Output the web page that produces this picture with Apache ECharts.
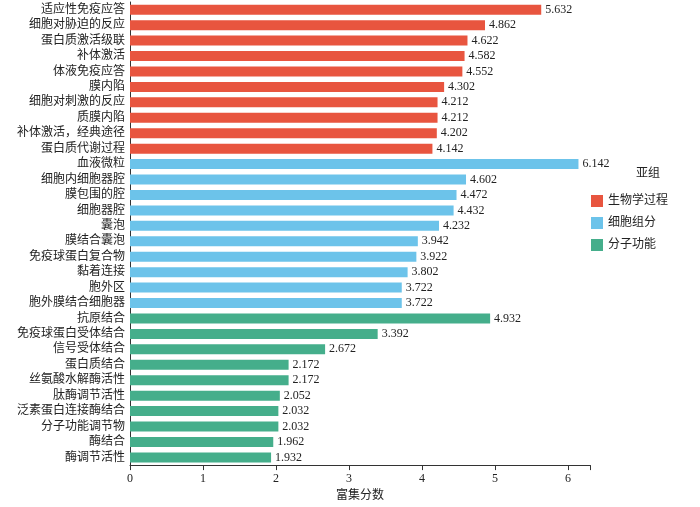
<!DOCTYPE html>
<html><head><meta charset="utf-8">
<script src="https://cdn.jsdelivr.net/npm/echarts@6/dist/echarts.min.js"></script>
<style>html,body{margin:0;padding:0;background:#fff}</style>
</head><body>
<div id="container" style="width:700px;height:507px"></div>
<script>
var bpNames = ['适应性免疫应答','细胞对胁迫的反应','蛋白质激活级联','补体激活','体液免疫应答','膜内陷','细胞对刺激的反应','质膜内陷','补体激活，经典途径','蛋白质代谢过程'];
var bpValues = [5.632,4.862,4.622,4.582,4.552,4.302,4.212,4.212,4.202,4.142];
var ccNames = ['血液微粒','细胞内细胞器腔','膜包围的腔','细胞器腔','囊泡','膜结合囊泡','免疫球蛋白复合物','黏着连接','胞外区','胞外膜结合细胞器'];
var ccValues = [6.142,4.602,4.472,4.432,4.232,3.942,3.922,3.802,3.722,3.722];
var mfNames = ['抗原结合','免疫球蛋白受体结合','信号受体结合','蛋白质结合','丝氨酸水解酶活性','肽酶调节活性','泛素蛋白连接酶结合','分子功能调节物','酶结合','酶调节活性'];
var mfValues = [4.932,3.392,2.672,2.172,2.172,2.052,2.032,2.032,1.962,1.932];
var xTicks = [0,1,2,3,4,5,6];

var names = bpNames.concat(ccNames, mfNames);
function pad(vals, before, after) {
    var out = [];
    for (var i = 0; i < before; i++) out.push('-');
    out = out.concat(vals);
    for (var j = 0; j < after; j++) out.push('-');
    return out;
}
var font = '"Liberation Serif","Noto Sans CJK SC",serif';
function mk(name, data, color) {
    return {
        name: name, type: 'bar', stack: 'all', data: data, barWidth: 10,
        itemStyle: {color: color},
        label: {show: true, position: 'right', distance: 4, color: '#222', fontSize: 12, fontFamily: font,
            formatter: function (p) { return p.value.toFixed(3); }}
    };
}
var myChart = echarts.init(document.getElementById('container'));
myChart.setOption({
    animation: false,
    textStyle: {fontFamily: font},
    legend: {
        orient: 'vertical', left: 586, top: 190, icon: 'rect', itemWidth: 12, itemHeight: 12, itemGap: 10,
        textStyle: {fontSize: 12, color: '#222'},
        data: ['生物学过程', '细胞组分', '分子功能']
    },
    graphic: [{type: 'text', left: 636, top: 168, style: {text: '亚组', fontSize: 12, fill: '#222', fontFamily: font}}],
    grid: {left: 130, right: 110, top: 2, bottom: 36},
    xAxis: {
        type: 'value', min: 0, max: 6.3, interval: 1,
        name: '富集分数', nameLocation: 'middle', nameGap: 22,
        nameTextStyle: {fontSize: 12, color: '#222'},
        axisLine: {show: true, lineStyle: {color: '#333'}},
        axisTick: {show: true, lineStyle: {color: '#333'}},
        splitLine: {show: false},
        axisLabel: {fontSize: 12, color: '#222', formatter: function (v) { return xTicks.indexOf(v) >= 0 ? v : ''; }}
    },
    yAxis: {
        type: 'category', inverse: true, data: names,
        axisLine: {show: true, lineStyle: {color: '#333'}},
        axisTick: {show: false},
        axisLabel: {interval: 0, fontSize: 12, color: '#222', margin: 5}
    },
    series: [
        mk('生物学过程', pad(bpValues, 0, 20), '#E8553F'),
        mk('细胞组分', pad(ccValues, 10, 10), '#6CC3EA'),
        mk('分子功能', pad(mfValues, 20, 0), '#45AE8B')
    ]
});
</script>
</body></html>
